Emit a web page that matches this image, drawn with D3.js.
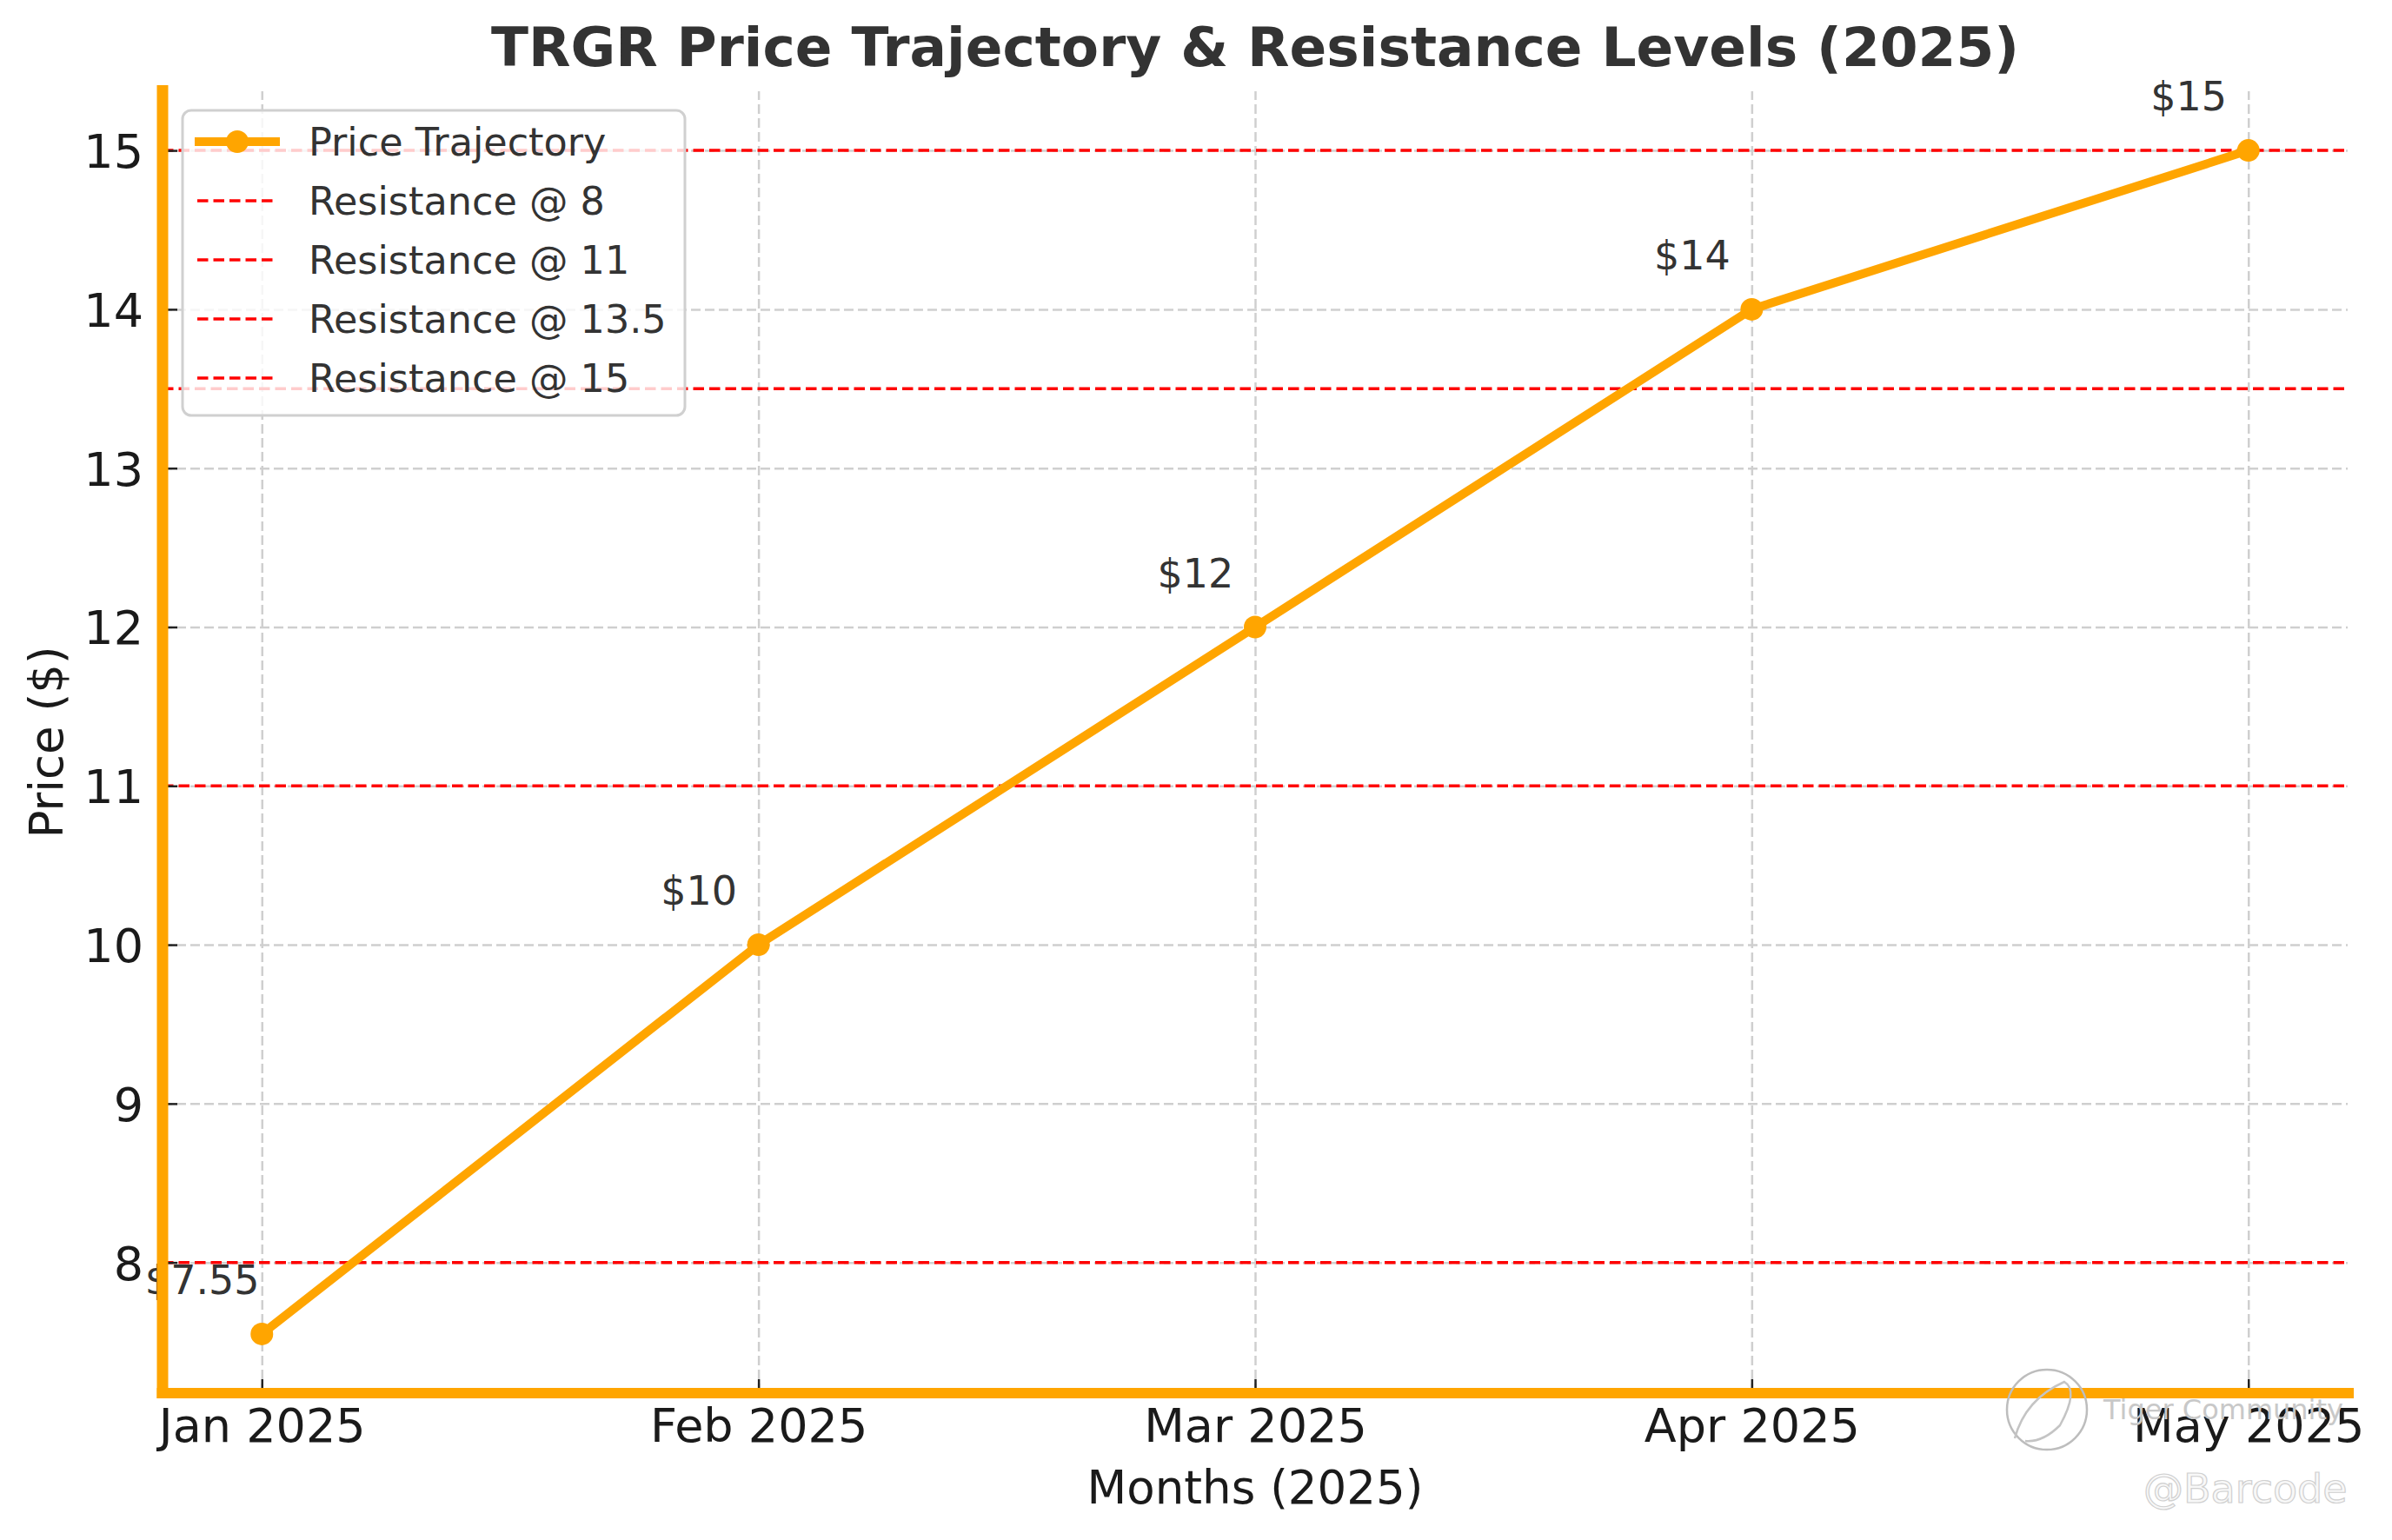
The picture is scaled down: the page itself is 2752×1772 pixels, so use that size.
<!DOCTYPE html>
<html lang="en">
<head>
    <meta charset="UTF-8">
    <title>TRGR Price Trajectory & Resistance Levels (2025)</title>
    <script src="https://d3js.org/d3.v7.min.js"></script>
    <style>
        body { margin: 0; background: #fff; }
        text { font-family: "DejaVu Sans", sans-serif; }
    </style>
</head>
<body>
<svg width="2752" height="1772"></svg>
<script>
    // data
    var months = ["Jan 2025", "Feb 2025", "Mar 2025", "Apr 2025", "May 2025"];
    var prices = [7.55, 10, 12, 14, 15];
    var resistance = [8, 11, 13.5, 15];
    var yTicks = [8, 9, 10, 11, 12, 13, 14, 15];

    var svg = d3.select("svg"),
        margin = {top: 105, right: 51, bottom: 169, left: 187},
        width = +svg.attr("width") - margin.left - margin.right,
        height = +svg.attr("height") - margin.top - margin.bottom,
        g = svg.append("g")
               .attr("transform", "translate(" + margin.left + "," + margin.top + ")");

    var orange = "#ffa500";

    // matplotlib-style 5% margins
    var x = d3.scaleLinear().domain([-0.2, months.length - 1 + 0.2]).range([0, width]);
    var yLo = d3.min(prices), yHi = d3.max(prices), pad = (yHi - yLo) * 0.05;
    var y = d3.scaleLinear().domain([yLo - pad, yHi + pad]).range([height, 0]);

    var idx = months.map((d, i) => i);

    // grid
    g.append("g")
        .attr("class", "grid")
        .attr("transform", "translate(0," + height + ")")
        .call(d3.axisBottom(x).tickValues(idx).tickSize(-height).tickFormat(""))
        .call(s => s.select(".domain").remove());
    g.append("g")
        .attr("class", "grid")
        .call(d3.axisLeft(y).tickValues(yTicks).tickSize(-width).tickFormat(""))
        .call(s => s.select(".domain").remove());
    g.selectAll(".grid line")
        .attr("stroke", "#cfcfcf")
        .attr("stroke-width", 2.5)
        .attr("stroke-dasharray", "11,5");

    // resistance lines
    g.selectAll(".res")
        .data(resistance)
        .enter().append("line")
        .attr("class", "res")
        .attr("x1", 0).attr("x2", width)
        .attr("y1", d => y(d)).attr("y2", d => y(d))
        .attr("stroke", "#ff0000")
        .attr("stroke-width", 3.5)
        .attr("stroke-dasharray", "12.5,6");

    // price line
    var line = d3.line()
                 .x((d, i) => x(i))
                 .y(d => y(d));

    g.append("path")
        .datum(prices)
        .attr("d", line)
        .attr("fill", "none")
        .attr("stroke", orange)
        .attr("stroke-width", 10)
        .attr("stroke-linejoin", "round");

    g.selectAll(".dot")
        .data(prices)
        .enter().append("circle")
        .attr("cx", (d, i) => x(i))
        .attr("cy", d => y(d))
        .attr("r", 13)
        .attr("fill", orange);

    // value labels
    g.selectAll(".lbl")
        .data(prices)
        .enter().append("text")
        .attr("x", (d, i) => x(i - 0.12))
        .attr("y", d => y(d + 0.25))
        .attr("text-anchor", "middle")
        .attr("font-size", 46)
        .attr("fill", "#333")
        .text(d => "$" + d);

    // axes
    var xAxis = g.append("g")
        .attr("transform", "translate(0," + height + ")")
        .call(d3.axisBottom(x).tickValues(idx).tickFormat(i => months[i]).tickSize(-16));
    xAxis.select(".domain").remove();
    xAxis.selectAll("line").attr("stroke", "#222").attr("stroke-width", 2.5);
    xAxis.selectAll("text")
        .attr("y", 56).attr("dy", 0)
        .attr("font-size", 54)
        .attr("fill", "#1a1a1a");

    var yAxis = g.append("g")
        .call(d3.axisLeft(y).tickValues(yTicks).tickSize(-17));
    yAxis.select(".domain").remove();
    yAxis.selectAll("line").attr("stroke", "#222").attr("stroke-width", 2.5);
    yAxis.selectAll("text")
        .attr("x", -22).attr("dy", "0.36em")
        .attr("font-size", 54)
        .attr("fill", "#1a1a1a");

    // thick orange spines
    g.append("line")
        .attr("x1", 0).attr("x2", 0)
        .attr("y1", -7).attr("y2", height + 6)
        .attr("stroke", orange).attr("stroke-width", 13);
    g.append("line")
        .attr("x1", -6.5).attr("x2", width + 7)
        .attr("y1", height).attr("y2", height)
        .attr("stroke", orange).attr("stroke-width", 12);

    // axis titles
    svg.append("text")
        .attr("x", margin.left + width / 2)
        .attr("y", 1730)
        .attr("text-anchor", "middle")
        .attr("font-size", 53)
        .attr("fill", "#1a1a1a")
        .text("Months (2025)");
    svg.append("text")
        .attr("transform", "translate(72," + (margin.top + height / 2) + ") rotate(-90)")
        .attr("text-anchor", "middle")
        .attr("font-size", 53)
        .attr("fill", "#1a1a1a")
        .text("Price ($)");

    svg.append("text")
        .attr("x", margin.left + width / 2)
        .attr("y", 76)
        .attr("text-anchor", "middle")
        .attr("font-size", 63)
        .attr("font-weight", "bold")
        .attr("fill", "#333")
        .text("TRGR Price Trajectory & Resistance Levels (2025)");

    // legend
    var leg = svg.append("g").attr("transform", "translate(210,127)");
    leg.append("rect")
        .attr("width", 578).attr("height", 351)
        .attr("rx", 10)
        .attr("fill", "#fff").attr("fill-opacity", 0.8)
        .attr("stroke", "#d0d0d0").attr("stroke-width", 3);

    var legItems = [{name: "Price Trajectory", kind: "price"}]
        .concat(resistance.map(r => ({name: "Resistance @ " + r, kind: "res"})));
    var row = leg.selectAll(".row")
        .data(legItems)
        .enter().append("g")
        .attr("transform", (d, i) => "translate(0," + (36 + i * 68) + ")");
    row.filter(d => d.kind === "price").append("line")
        .attr("x1", 14).attr("x2", 112)
        .attr("stroke", orange).attr("stroke-width", 10);
    row.filter(d => d.kind === "price").append("circle")
        .attr("cx", 63).attr("r", 13).attr("fill", orange);
    row.filter(d => d.kind === "res").append("line")
        .attr("x1", 17).attr("x2", 108)
        .attr("stroke", "#ff0000").attr("stroke-width", 3.5)
        .attr("stroke-dasharray", "12.5,6");
    row.append("text")
        .attr("x", 145)
        .attr("dy", "0.36em")
        .attr("font-size", 44.5)
        .attr("fill", "#333")
        .text(d => d.name);

    // watermark
    var wm = svg.append("g");
    wm.append("circle")
        .attr("cx", 2355).attr("cy", 1622).attr("r", 46)
        .attr("fill", "none").attr("stroke", "#bdbdbd").attr("stroke-width", 2.5);
    wm.append("path")
        .attr("d", "M2318,1655 Q2330,1610 2375,1590 Q2392,1600 2370,1640 Q2350,1660 2330,1658")
        .attr("fill", "none").attr("stroke", "#c4c4c4").attr("stroke-width", 2.5);
    wm.append("text")
        .attr("x", 2420).attr("y", 1633)
        .attr("font-size", 32)
        .attr("fill", "#c8c8c8")
        .text("Tiger Community");
    wm.append("text")
        .attr("x", 2466).attr("y", 1729)
        .attr("font-size", 46)
        .attr("fill", "#f8f8f8")
        .attr("stroke", "#d0d0d0").attr("stroke-width", 1.2)
        .text("@Barcode");
</script>
</body>
</html>
